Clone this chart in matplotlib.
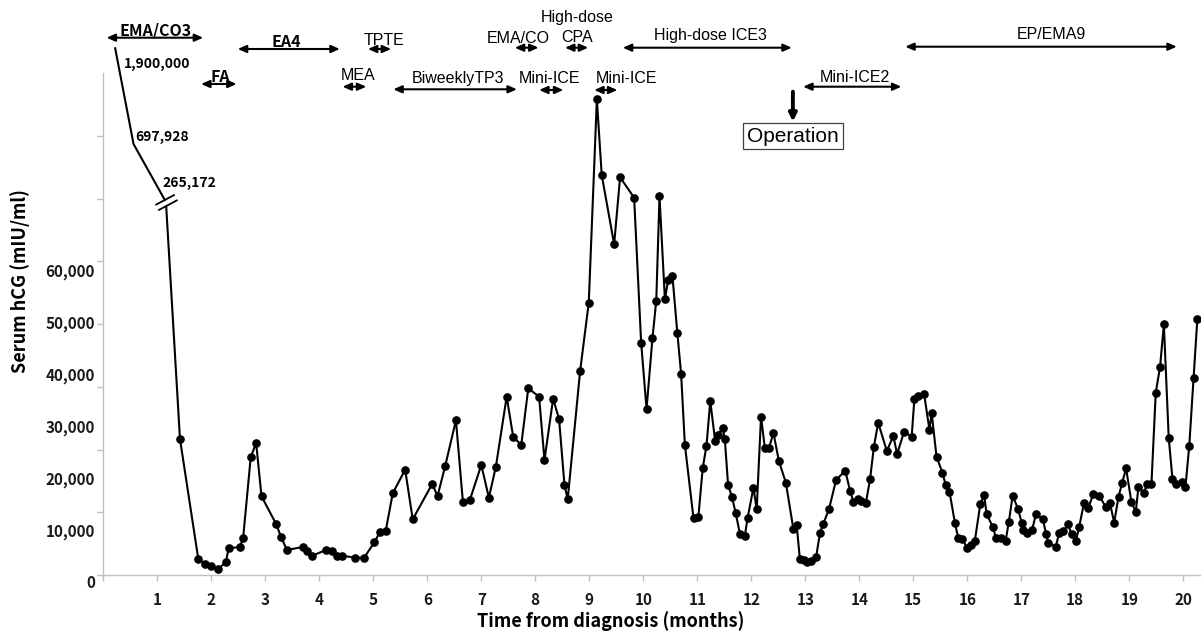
import numpy as np
import matplotlib
matplotlib.use("Agg")
import matplotlib.pyplot as plt
import matplotlib.transforms as mtransforms
from matplotlib.path import Path

# ---------------- data ----------------
# early phase, drawn above the axis break
early_months = [0.22, 0.56, 1.16]
early_hcg = [1900000, 697928, 265172]
early_labels = ["1,900,000", "697,928", "265,172"]

months = [1.42, 1.76, 1.89, 1.99, 2.13, 2.27, 2.32, 2.53, 2.59, 2.73, 2.83, 2.93, 3.20, 3.29, 3.40,
          3.69, 3.77, 3.86, 4.12, 4.23, 4.32, 4.42, 4.67, 4.83, 5.02, 5.12, 5.23, 5.36, 5.59, 5.73,
          6.09, 6.19, 6.33, 6.53, 6.66, 6.79, 7.00, 7.14, 7.27, 7.47, 7.59, 7.74, 7.87, 8.07, 8.17,
          8.33, 8.44, 8.54, 8.60, 8.83, 8.99, 9.14, 9.23, 9.46, 9.57, 9.83, 9.96, 10.06, 10.17, 10.24,
          10.30, 10.40, 10.46, 10.54, 10.63, 10.70, 10.77, 10.93, 11.02, 11.10, 11.17, 11.24, 11.33,
          11.38, 11.47, 11.51, 11.57, 11.64, 11.71, 11.79, 11.88, 11.93, 12.04, 12.10, 12.18, 12.25,
          12.33, 12.41, 12.51, 12.64, 12.78, 12.84, 12.90, 12.98, 13.04, 13.11, 13.20, 13.27, 13.33,
          13.44, 13.57, 13.74, 13.83, 13.89, 13.97, 14.04, 14.12, 14.20, 14.27, 14.35, 14.51, 14.63,
          14.70, 14.83, 14.97, 15.02, 15.09, 15.20, 15.30, 15.34, 15.43, 15.54, 15.60, 15.67, 15.77,
          15.83, 15.91, 16.00, 16.07, 16.14, 16.24, 16.31, 16.36, 16.47, 16.53, 16.62, 16.71, 16.77,
          16.84, 16.94, 17.01, 17.04, 17.10, 17.20, 17.27, 17.40, 17.46, 17.50, 17.64, 17.70, 17.78,
          17.87, 17.93, 18.01, 18.07, 18.16, 18.24, 18.33, 18.44, 18.57, 18.64, 18.72, 18.80, 18.87,
          18.94, 19.04, 19.12, 19.17, 19.27, 19.33, 19.41, 19.49, 19.57, 19.64, 19.73, 19.80, 19.86,
          19.97, 20.04, 20.11, 20.19, 20.26]
hcg = [26180, 3020, 2180, 1670, 1220, 2440, 5140, 5390, 7180, 22660, 25410, 15150, 9820, 7370, 4810,
       5390, 4680, 3660, 4810, 4620, 3660, 3720, 3330, 3330, 6290, 8220, 8470, 15730, 20270, 10720,
       17520, 15210, 20920, 29780, 13990, 14500, 21180, 14880, 20850, 34320, 26620, 25030, 35940, 34320, 22140,
       33940, 30030, 17330, 14570, 39270, 52420, 91570, 77000, 63660, 76560, 72630, 44720, 31950, 45620, 52800,
       72900, 53070, 56790, 57500, 46640, 38750, 25030, 10910, 11220, 20540, 24890, 33490, 25850,
       26950, 28360, 26120, 17330, 15070, 11990, 7890, 7510, 10910, 16810, 12650, 30480, 24510,
       24510, 27400, 21950, 17770, 8800, 9630, 3020, 2830, 2440, 2700, 3410, 8030, 9760,
       12710, 18290, 20080, 16170, 14110, 14570, 14250, 13800, 18480, 24700, 29320, 23870, 26760,
       23290, 27590, 26620, 33880, 34520, 34840, 27910, 31240, 22770, 19690, 17330, 16040, 10070,
       7180, 6870, 5140, 5780, 6610, 13610, 15400, 11680, 9300, 7180, 7060, 6610, 10270,
       15270, 12710, 9950, 8660, 8030, 8660, 11680, 10720, 7830, 6220, 5450, 8140, 8470,
       9760, 7830, 6540, 9180, 13800, 12840, 15530, 15270, 13030, 13920, 10070, 15070, 17770,
       20540, 13990, 12190, 17000, 15840, 17520, 17520, 35090, 40100, 48260, 26430, 18420, 17460,
       17960, 17000, 24830, 37980, 49280]

ytick_vals = [0, 10000, 20000, 30000, 40000, 50000, 60000]
ytick_labels = ["0", "10,000", "20,000", "30,000", "40,000", "50,000", "60,000"]
xtick_vals = list(range(0, 21))
xtick_labels = [""] + [str(i) for i in range(1, 21)]

# treatment regimens: name, start month, end month
reg_names = ["EMA/CO3", "FA", "EA4", "MEA", "TPTE", "BiweeklyTP3", "EMA/CO", "Mini-ICE",
             "High-dose\nCPA", "Mini-ICE", "High-dose ICE3", "Mini-ICE2", "EP/EMA9"]
reg_start = [0.06, 1.81, 2.49, 4.43, 4.90, 5.37, 7.62, 8.07, 8.55, 9.09, 9.62, 12.96, 14.85]
reg_end = [1.85, 2.47, 4.38, 4.87, 5.33, 7.66, 8.06, 8.52, 8.98, 9.52, 12.75, 14.78, 19.88]
operation_month = 12.77

# ---------------- layout ----------------
W, H = 1201, 635
AX_L, AX_R, AX_B, AX_T = 103.3, 1201, 575, 73.3     # pixels
PX_PER_10K = 51.95
YMAX = (AX_B - AX_T) / PX_PER_10K * 10000
XMAX = (AX_R - AX_L) / 54.0

def fy(py):
    """pixel row -> axes fraction"""
    return (AX_B - py) / (AX_B - AX_T)

# arrow row (px), text x (month), text baseline (px), bold?
reg_arrow_y = [37.7, 84, 49, 86.7, 49, 89.3, 47.7, 90, 47.7, 90, 47.7, 86.7, 46.7]
reg_text_x = [0.96, 2.16, 3.39, 4.72, 5.19, 6.56, 7.69, 8.27, 8.77, 9.69, 11.25, 13.92, 17.56]
reg_text_base = [35.0, 81.7, 46.7, 80.0, 45.0, 82.7, 43.3, 82.7, 41.7, 82.7, 40.0, 81.7, 39.3]
reg_bold = [True, True, True, False, False, False, False, False, False, False, False, False, False]
LINE_GAP = 20  # px between stacked label lines

plt.rcParams["font.family"] = ["Noto Sans CJK JP", "DejaVu Sans"]
plt.rcParams["font.weight"] = "bold"

fig = plt.figure(figsize=(W / 100, H / 100), dpi=100)
pos = [AX_L / W, (H - AX_B) / H, (AX_R - AX_L) / W, (AX_B - AX_T) / H]
ax = fig.add_axes(pos)

gray = "#bfbfbf"
ax.plot(months, hcg, color="black", lw=1.5, marker="o", ms=5.2, zorder=3, clip_on=False)

ax.set_xlim(0, XMAX)
ax.set_ylim(0, YMAX)
for s in ["top", "right"]:
    ax.spines[s].set_visible(False)
for s in ["left", "bottom"]:
    ax.spines[s].set_color(gray)
    ax.spines[s].set_linewidth(1.0)

ax.set_xticks(xtick_vals, labels=xtick_labels)
ax.tick_params(axis="x", direction="out", length=4, width=1, color=gray, pad=8,
               labelsize=11, labelcolor="#1a1a1a")
ax.yaxis.remove_overlapping_locs = False
ax.set_yticks(np.linspace(0, YMAX, 9)[:-1])
ax.tick_params(axis="y", which="major", direction="out", length=4, width=1, color=gray,
               labelleft=False)
ax.set_yticks(ytick_vals, labels=ytick_labels, minor=True)
ax.tick_params(axis="y", which="minor", length=0, pad=6, labelsize=11, labelcolor="#1a1a1a")
off = mtransforms.ScaledTranslation(0, -7 / 100, fig.dpi_scale_trans)
for lab in ax.get_yticklabels(minor=True):
    lab.set_transform(lab.get_transform() + off)

ax.set_xlabel("Time from diagnosis (months)", fontsize=13, fontweight="bold", va="center")
ax.xaxis.set_label_coords((611 - AX_L) / (AX_R - AX_L), fy(621.5))
ax.set_ylabel("Serum hCG (mIU/ml)", fontsize=13, fontweight="bold", va="center")
ax.yaxis.set_label_coords((20.5 - AX_L) / (AX_R - AX_L), fy(281))

# ---- overlay axes for the early, very high values (broken axis) ----
brk_vals = [0, 60000, 265172, 697928, 1900000]
brk_pix = [575, 575 - 6 * PX_PER_10K, 202, 144, 48.3]
brk_eq = [(AX_B - p) / PX_PER_10K * 10000 for p in brk_pix]

def fwd(v):
    return np.interp(v, brk_vals, brk_eq)

def inv(p):
    return np.interp(p, brk_eq, brk_vals)

ax2 = fig.add_axes(pos, sharex=ax)
ax2.set_yscale("function", functions=(fwd, inv))
ax2.plot(early_months + [months[0]], early_hcg + [hcg[0]], color="black", lw=1.5,
         clip_on=False, zorder=3)
ax2.set_ylim(0, inv(YMAX))
ax2.patch.set_visible(False)
ax2.axis("off")

# break marks
ang = np.deg2rad(28)
d = np.array([np.cos(ang), np.sin(ang)]) * 11
nrm = np.array([-np.sin(ang), np.cos(ang)]) * 3
brk_path = Path([tuple(-d + nrm), tuple(d + nrm), tuple(-d - nrm), tuple(d - nrm)],
                [Path.MOVETO, Path.LINETO, Path.MOVETO, Path.LINETO])
ext = np.max(np.abs(np.array([-d + nrm, d + nrm])))
gap_path = Path([tuple(-d * 0.85), tuple(d * 0.85)], [Path.MOVETO, Path.LINETO])
gap_ext = np.max(np.abs(d * 0.85))
ax2.plot([early_months[2]], [early_hcg[2]], marker=gap_path, ms=2 * gap_ext * 0.72,
         mec="white", mew=3.2, ls="none", clip_on=False, zorder=4)
ax2.plot([early_months[2]], [early_hcg[2]], marker=brk_path, ms=2 * ext * 0.72,
         mec="black", mfc="none", mew=1.3, ls="none", clip_on=False, zorder=5)

early_off = [(8.3, -15.5), (1.7, 7.3), (-3.3, 19.5)]
for xm, v, lab, (dx, dy) in zip(early_months, early_hcg, early_labels, early_off):
    ax2.annotate(lab, (xm, v), xytext=(dx, dy), textcoords="offset pixels",
                 ha="left", va="center", fontsize=10, fontweight="bold",
                 annotation_clip=False, zorder=6)

# ---- regimen arrows ----
tr = ax.get_xaxis_transform()
for name, x0, x1, ya, tx, tb, bold in zip(reg_names, reg_start, reg_end, reg_arrow_y,
                                          reg_text_x, reg_text_base, reg_bold):
    ax.annotate("", xy=(x1, fy(ya)), xytext=(x0, fy(ya)), xycoords=tr, textcoords=tr,
                arrowprops=dict(arrowstyle="<|-|>,head_length=0.5,head_width=0.22",
                                color="black", lw=1.5, mutation_scale=10,
                                shrinkA=0, shrinkB=0),
                annotation_clip=False)
    lines = name.split("\n")
    for k, line in enumerate(lines):
        base = tb - (len(lines) - 1 - k) * LINE_GAP
        if bold:
            ax.text(tx, fy(base), line, transform=tr, ha="center", va="baseline",
                    fontsize=11.5, fontweight="bold", clip_on=False)
        else:
            ax.text(tx, fy(base), line, transform=tr, ha="center", va="baseline",
                    fontsize=11.5, family="Liberation Sans", fontweight="normal",
                    clip_on=False)

# ---- operation ----
ax.annotate("", xy=(operation_month, fy(121.7)), xytext=(operation_month, fy(91.7)),
            xycoords=tr, textcoords=tr,
            arrowprops=dict(arrowstyle="-|>,head_length=0.45,head_width=0.22",
                            color="black", lw=2.8, mutation_scale=10,
                            shrinkA=0, shrinkB=0),
            annotation_clip=False)
ax.text(operation_month, fy(136.2), "Operation", transform=tr, ha="center", va="center",
        fontsize=15, family="Liberation Sans", fontweight="normal",
        bbox=dict(boxstyle="square,pad=0.18", fc="white", ec="#404040", lw=0.9))

fig.savefig("out.png", dpi=100)
